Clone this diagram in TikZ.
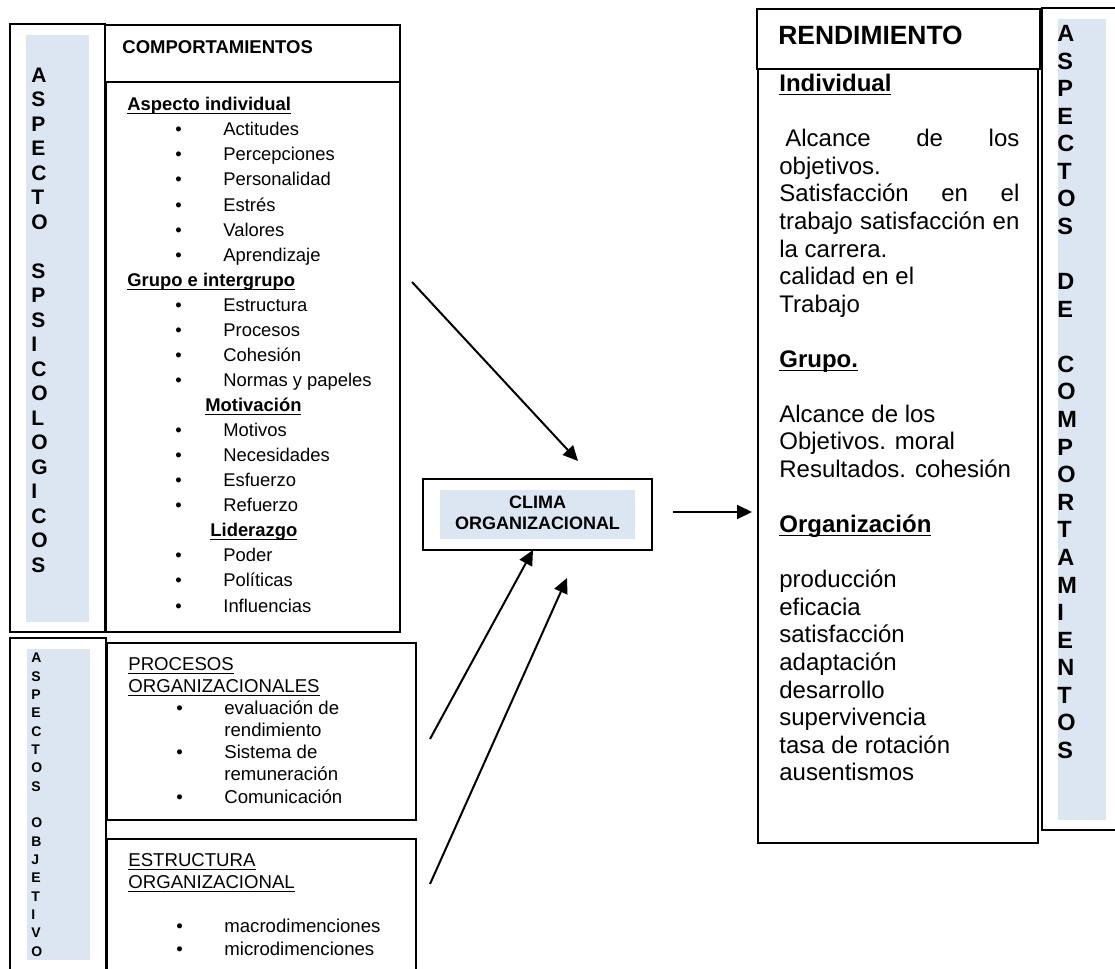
\documentclass[tikz,border=0pt]{standalone}
\usepackage{fontspec}
\setmainfont{Liberation Sans}
\usetikzlibrary{arrows.meta}
\definecolor{bandblue}{HTML}{DCE6F2}
\newcommand{\uword}[1]{\underline{\smash{#1}}}
\newcommand{\uhead}[1]{\uword{\textbf{#1}}}
\newcommand{\bul}[1]{\hspace*{24pt}\makebox[24pt][l]{\textbullet}#1}
\tikzset{
  boxline/.style={draw=black, line width=1pt},
  band/.style={fill=bandblue},
  flow/.style={line width=1pt, -{Triangle[length=7.5pt,width=7pt]}},
  vbig/.style={anchor=base west, align=left, inner sep=0pt, font=\bfseries\fontsize{10.5pt}{12.25pt}\selectfont},
  vsmall/.style={anchor=base west, align=left, inner sep=0pt, font=\bfseries\fontsize{7pt}{9.16pt}\selectfont},
  vright/.style={anchor=base west, align=left, inner sep=0pt, font=\bfseries\fontsize{11.75pt}{13.79pt}\selectfont},
  headtext/.style={anchor=base west, inner sep=0pt, font=\bfseries\fontsize{9.25pt}{11pt}\selectfont},
  bodytext/.style={anchor=base west, align=left, inner sep=0pt, font=\fontsize{9.2pt}{12.53pt}\selectfont},
  orgtext/.style={anchor=base west, align=left, inner sep=0pt, font=\fontsize{9.3pt}{11.03pt}\selectfont},
  climatext/.style={anchor=base, align=center, inner sep=0pt, font=\bfseries\fontsize{9pt}{10.5pt}\selectfont},
  rendhead/.style={anchor=base west, inner sep=0pt, font=\bfseries\fontsize{13.2pt}{15pt}\selectfont},
  rendtext/.style={anchor=base west, align=left, inner sep=0pt, font=\fontsize{12pt}{13.78pt}\selectfont},
}
\begin{document}
\begin{tikzpicture}[x=0.5pt, y=-0.5pt]
\useasboundingbox (0,0) rectangle (1115,969);
\fill[band] (26,35) rectangle (89,622);
\fill[band] (27,649) rectangle (90,960);
\fill[band] (440,490) rectangle (635,539);
\fill[band] (1058,19) rectangle (1106,820);
\draw[boxline] (10,24) rectangle (105,632);
\draw[boxline] (105,25) rectangle (400,82);
\draw[boxline] (106,82) rectangle (400,632);
\draw[boxline] (10,969) -- (10,638) -- (106,638) -- (106,969);
\draw[boxline] (107,643) rectangle (416,820);
\draw[boxline] (107,969) -- (107,839) -- (416,839) -- (416,969);
\draw[boxline] (423,479) rectangle (652,550);
\draw[boxline] (757,9) rectangle (1040,69);
\draw[boxline] (758,69) rectangle (1038,843);
\draw[boxline] (1116,8) -- (1042,8) -- (1042,830) -- (1116,830);
\node[vbig] (psico) at (31,572) {A\\S\\P\\E\\C\\T\\O\\[12.25pt]S\\P\\S\\I\\C\\O\\L\\O\\G\\I\\C\\O\\S};
\node[vsmall] (objet) at (31,956) {A\\S\\P\\E\\C\\T\\O\\S\\[9.16pt]O\\B\\J\\E\\T\\I\\V\\O};
\node[vright] (comport) at (1057,758.5) {A\\S\\P\\E\\C\\T\\O\\S\\[13.79pt]D\\E\\[13.79pt]C\\O\\M\\P\\O\\R\\T\\A\\M\\I\\E\\N\\T\\O\\S};
\node[headtext] (comphead) at (122,54) {COMPORTAMIENTOS};
\node[bodytext] (comptxt) at (127,612) {\uhead{Aspecto individual}\\
\bul{Actitudes}\\
\bul{Percepciones}\\
\bul{Personalidad}\\
\bul{Estrés}\\
\bul{Valores}\\
\bul{Aprendizaje}\\
\uhead{Grupo e intergrupo}\\
\bul{Estructura}\\
\bul{Procesos}\\
\bul{Cohesión}\\
\bul{Normas y papeles}\\
\hspace*{39pt}\uhead{Motivación}\\
\bul{Motivos}\\
\bul{Necesidades}\\
\bul{Esfuerzo}\\
\bul{Refuerzo}\\
\hspace*{41.5pt}\uhead{Liderazgo}\\
\bul{Poder}\\
\bul{Políticas}\\
\bul{Influencias}};
\node[orgtext] (proctxt) at (128,803) {\uword{PROCESOS}\\
\uword{ORGANIZACIONALES}\\
\bul{evaluación de}\\
\hspace*{48pt}rendimiento\\
\bul{Sistema de}\\
\hspace*{48pt}remuneración\\
\bul{Comunicación}};
\node[orgtext] (esttxt) at (128,955) {\uword{ESTRUCTURA}\\
\uword{ORGANIZACIONAL}\\[11.03pt]
\bul{macrodimenciones}\\
\bul{microdimenciones}};
\node[climatext] (clima) at (537.5,529) {CLIMA\\ORGANIZACIONAL};
\node[rendhead] (rendhd) at (778,45) {RENDIMIENTO};
\node[rendtext] (rendtxt) at (779,780.7) {\uhead{Individual}\\[13.78pt]
\hspace*{3pt}\makebox[117pt][s]{Alcance de los}\\
objetivos.\\
\makebox[120pt][s]{Satisfacción en el}\\
\makebox[120pt][s]{trabajo satisfacción en}\\
la carrera.\\
calidad en el\\
Trabajo\\[13.78pt]
\uhead{Grupo.}\\[13.78pt]
Alcance de los\\
Objetivos. moral\\
Resultados. cohesión\\[13.78pt]
\uhead{Organización}\\[13.78pt]
producción\\
eficacia\\
satisfacción\\
adaptación\\
desarrollo\\
supervivencia\\
tasa de rotación\\
ausentismos};
\coordinate (a1s) at (412,282);
\coordinate (a1e) at (578,461);
\coordinate (a2s) at (430,739);
\coordinate (a2e) at (533,550);
\coordinate (a3s) at (430,884);
\coordinate (a3e) at (567,578);
\coordinate (a4s) at (673,512);
\coordinate (a4e) at (752,512);
\draw[flow] (a1s) -- (a1e);
\draw[flow] (a2s) -- (a2e);
\draw[flow] (a3s) -- (a3e);
\draw[flow] (a4s) -- (a4e);
\end{tikzpicture}
\end{document}
